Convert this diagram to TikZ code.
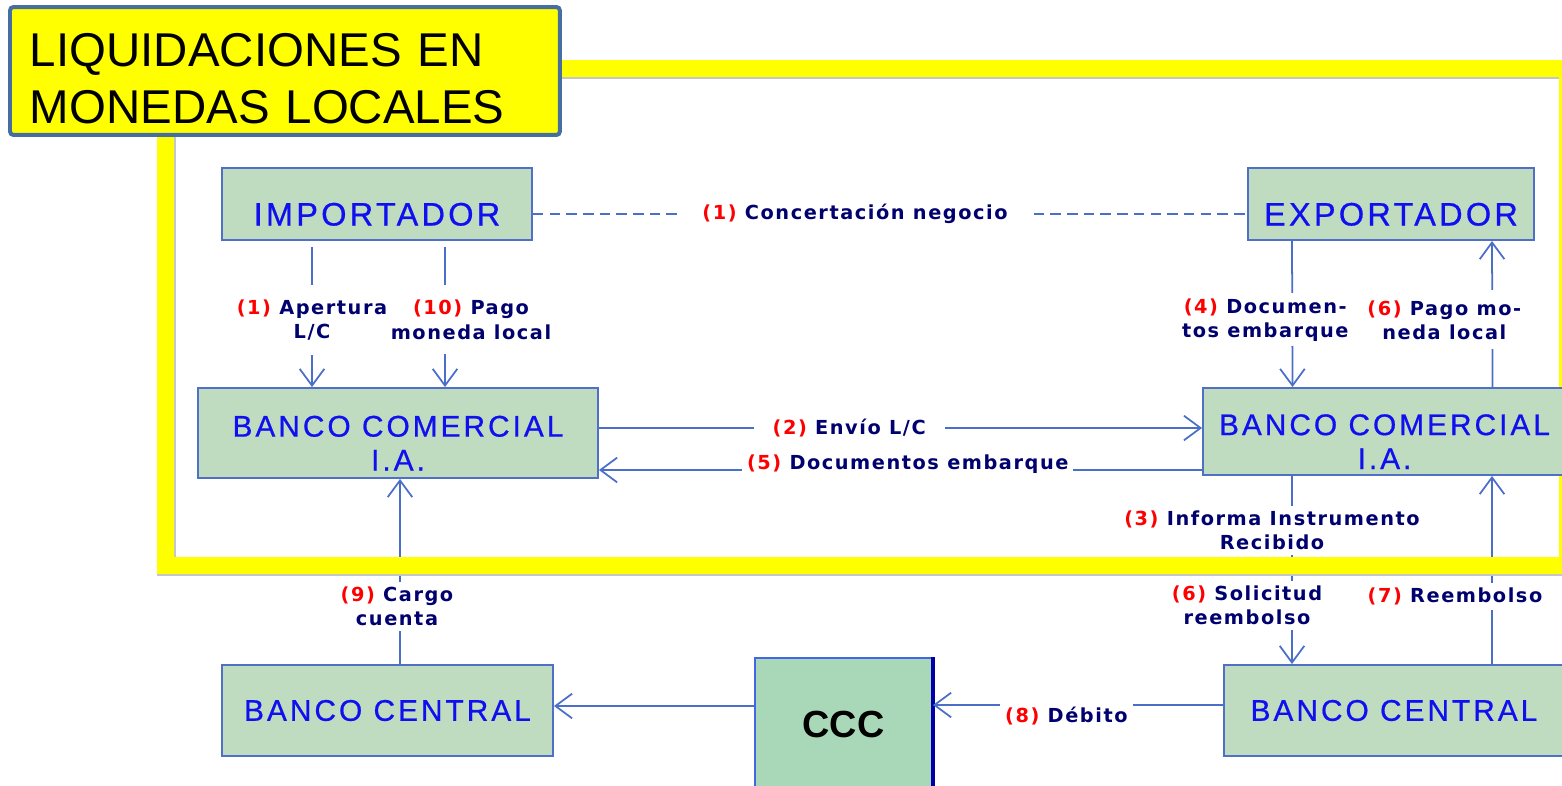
\documentclass[tikz,border=0pt]{standalone}
\usepackage{fontspec}
\usepackage{xcolor}
\usetikzlibrary{arrows.meta,calc}
\setmainfont{Liberation Sans}
\newfontfamily\cajafont[LetterSpace=10,FakeBold=0.6]{Liberation Sans}
\newfontfamily\etiqfont[LetterSpace=8]{DejaVu Sans}

\definecolor{verdecaja}{RGB}{192,220,192}
\definecolor{verdeccc}{RGB}{168,216,184}
\definecolor{bordecaja}{RGB}{80,112,200}
\definecolor{bordeccc}{RGB}{70,100,230}
\definecolor{azultexto}{RGB}{15,15,240}
\definecolor{azulosc}{RGB}{0,0,110}
\definecolor{lineacol}{RGB}{75,110,200}
\definecolor{rojo}{RGB}{255,0,0}
\definecolor{amarillo}{RGB}{255,255,0}
\definecolor{bordetitulo}{RGB}{70,110,160}

\newcommand{\paso}[1]{\textcolor{rojo}{(#1)}}

\tikzset{
  caja/.style={draw=bordecaja, line width=1.1pt, fill=verdecaja, text=azultexto,
    inner sep=0pt, align=center, font=\cajafont\fontsize{17}{19.3}\selectfont},
  etiq/.style={fill=white, text=azulosc, inner xsep=0.1cm, inner ysep=0.1cm,
    align=center, font=\etiqfont\bfseries\fontsize{11}{13.7}\selectfont},
  linea/.style={draw=lineacol, line width=1pt},
  flecha/.style={linea, -{Straight Barb[length=9.5pt,width=14pt]}},
  marco/.style={draw=amarillo, line width=0.34cm},
  sombra/.style={draw=gray!45, line width=0.34cm},
  titulo/.style={draw=bordetitulo, line width=0.08cm, fill=amarillo, rounded corners=2pt,
    text width=10.2cm, inner xsep=0.4cm, minimum height=2.56cm, align=left,
    text height=0.98cm, text depth=1.14cm, font=\fontsize{27}{32.4}\selectfont}
}

\begin{document}
\begin{tikzpicture}[x=0.02cm, y=-0.02cm]
        \useasboundingbox (0,0) rectangle (1562,785);

        % marco amarillo
        \draw[sombra] (167.5,70) rectangle (1569,567.5);
        \draw[marco] (165.5,68) rectangle (1567,565.5);

        \node[caja, minimum width=6.2cm, minimum height=1.44cm, text height=0.86cm, text depth=0pt,
              font=\cajafont\fontsize{18.5}{20}\selectfont] (imp) at (377,204) {IMPORTADOR};
        \node[caja, minimum width=5.72cm, minimum height=1.44cm, text height=0.86cm, text depth=0pt,
              font=\cajafont\fontsize{18.5}{20}\selectfont] (exp) at (1391,204) {EXPORTADOR};
        \node[caja, minimum width=8cm, minimum height=1.8cm, text height=1.5cm, text depth=0pt] (bcL) at (398,433) {BANCO COMERCIAL\\I.A.};
        \node[caja, minimum width=7.26cm, minimum height=1.74cm, text height=1.5cm, text depth=0pt] (bcR) at (1384.5,431.5) {BANCO COMERCIAL\\I.A.};
        \node[caja, minimum width=6.62cm, minimum height=1.82cm] (bcenL) at (387.5,710.5) {BANCO CENTRAL};
        \node[caja, minimum width=6.8cm, minimum height=1.82cm] (bcenR) at (1394,710.5) {BANCO CENTRAL};
        \node[caja, fill=verdeccc, draw=bordeccc, text=black, minimum width=3.54cm, minimum height=2.64cm,
              font=\bfseries\fontsize{21.5}{24}\selectfont] (ccc) at (843.5,724) {CCC};
        \draw[draw={rgb,255:red,0;green,0;blue,170}, line width=2pt] (ccc.north east) -- (ccc.south east);

        \draw[linea, dash pattern=on 6pt off 3.5pt] ($(imp.east)+(0,10)$)
            -- node[etiq, pos=0.451, inner xsep=0.4cm] {\paso{1} Concertación negocio} ($(exp.west)+(0,10)$);

        \draw[flecha] ($(imp.south)+(-65,6)$)
            -- node[etiq, pos=0.52, inner ysep=0.3cm] {\paso{1} Apertura\\L/C} ($(bcL.north)+(-86,0)$);
        \draw[flecha] ($(imp.south)+(68,6)$)
            -- node[etiq, pos=0.52, xshift=0.52cm, inner ysep=0.3cm] {\paso{10} Pago\\moneda local} ($(bcL.north)+(47,0)$);

        \draw[flecha] ($(exp.south)+(-99,0)$)
            -- node[etiq, pos=0.54, xshift=-0.54cm] {\paso{4} Documen-\\tos embarque} ($(bcR.north)+(-92,0)$);
        \draw[flecha] ($(bcR.north)+(108,0)$)
            -- node[etiq, pos=0.46, xshift=-0.96cm, inner ysep=0.2cm] {\paso{6} Pago mo-\\neda local} ($(exp.south)+(101,0)$);

        \draw[flecha] ($(bcL.east)+(0,-5)$)
            -- node[etiq, pos=0.415, inner xsep=0.38cm] {\paso{2} Envío L/C} ($(bcR.west)+(0,-3.5)$);
        \draw[flecha] ($(bcR.west)+(0,38.5)$)
            -- node[etiq, pos=0.488, yshift=0.12cm] {\paso{5} Documentos embarque} ($(bcL.east)+(0,37)$);

        \draw[flecha] ($(bcR.south)+(-92.5,0)$)
            -- node[etiq, pos=0.29, xshift=-0.4cm] {\paso{3} Informa Instrumento\\Recibido}
               node[etiq, pos=0.69, xshift=-0.9cm] {\paso{6} Solicitud\\reembolso} ($(bcenR.north)+(-102,0)$);
        \draw[flecha] ($(bcenR.north)+(98,0)$)
            -- node[etiq, pos=0.358, xshift=-0.74cm] {\paso{7} Reembolso} ($(bcR.south)+(107.5,0)$);
        \draw[flecha] ($(bcenL.north)+(12.5,0)$)
            -- node[etiq, pos=0.31, xshift=-0.06cm] {\paso{9} Cargo\\cuenta} ($(bcL.south)+(2,0)$);

        \draw[flecha] ($(bcenR.west)+(0,-5.5)$)
            -- node[etiq, pos=0.54, yshift=-0.22cm] {\paso{8} Débito} ($(ccc.east)+(0,-19)$);
        \draw[flecha] ($(ccc.west)+(0,-18)$) -- ($(bcenL.east)+(0,-4.5)$);

        % barra inferior del marco, sobre las flechas
        \draw[sombra] (157,567.5) -- (1575,567.5);
        \draw[marco] (157,565.5) -- (1575,565.5);

        \node[titulo, anchor=north west] (tit) at (8,5) {LIQUIDACIONES EN\\MONEDAS LOCALES};
\end{tikzpicture}
\end{document}
